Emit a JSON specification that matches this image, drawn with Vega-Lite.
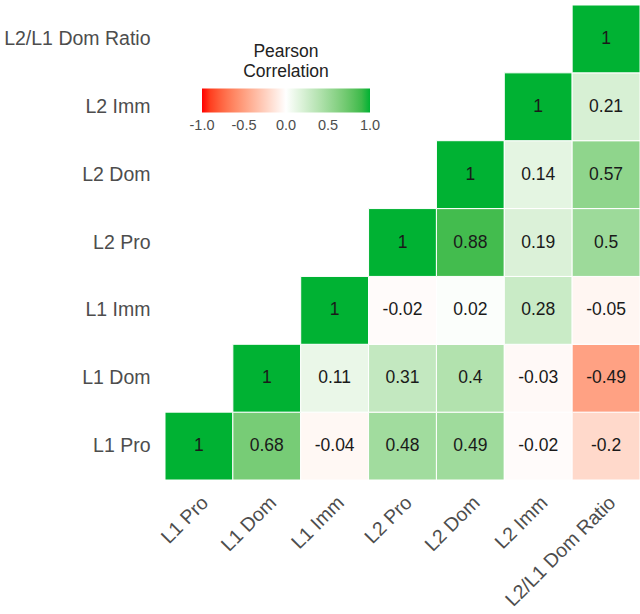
{
  "$schema": "https://vega.github.io/schema/vega-lite/v6.json",
  "width": 475,
  "height": 475,
  "autosize": {"type": "none"},
  "padding": {"left": 165, "top": 5, "right": 0, "bottom": 134},
  "background": "white",
  "config": {"view": {"stroke": null}, "font": "Liberation Sans"},
  "data": {
    "values": [
      {"x": "L1 Pro", "y": "L1 Pro", "r": 1},
      {"x": "L1 Dom", "y": "L1 Pro", "r": 0.68},
      {"x": "L1 Imm", "y": "L1 Pro", "r": -0.04},
      {"x": "L2 Pro", "y": "L1 Pro", "r": 0.48},
      {"x": "L2 Dom", "y": "L1 Pro", "r": 0.49},
      {"x": "L2 Imm", "y": "L1 Pro", "r": -0.02},
      {"x": "L2/L1 Dom Ratio", "y": "L1 Pro", "r": -0.2},
      {"x": "L1 Dom", "y": "L1 Dom", "r": 1},
      {"x": "L1 Imm", "y": "L1 Dom", "r": 0.11},
      {"x": "L2 Pro", "y": "L1 Dom", "r": 0.31},
      {"x": "L2 Dom", "y": "L1 Dom", "r": 0.4},
      {"x": "L2 Imm", "y": "L1 Dom", "r": -0.03},
      {"x": "L2/L1 Dom Ratio", "y": "L1 Dom", "r": -0.49},
      {"x": "L1 Imm", "y": "L1 Imm", "r": 1},
      {"x": "L2 Pro", "y": "L1 Imm", "r": -0.02},
      {"x": "L2 Dom", "y": "L1 Imm", "r": 0.02},
      {"x": "L2 Imm", "y": "L1 Imm", "r": 0.28},
      {"x": "L2/L1 Dom Ratio", "y": "L1 Imm", "r": -0.05},
      {"x": "L2 Pro", "y": "L2 Pro", "r": 1},
      {"x": "L2 Dom", "y": "L2 Pro", "r": 0.88},
      {"x": "L2 Imm", "y": "L2 Pro", "r": 0.19},
      {"x": "L2/L1 Dom Ratio", "y": "L2 Pro", "r": 0.5},
      {"x": "L2 Dom", "y": "L2 Dom", "r": 1},
      {"x": "L2 Imm", "y": "L2 Dom", "r": 0.14},
      {"x": "L2/L1 Dom Ratio", "y": "L2 Dom", "r": 0.57},
      {"x": "L2 Imm", "y": "L2 Imm", "r": 1},
      {"x": "L2/L1 Dom Ratio", "y": "L2 Imm", "r": 0.21},
      {"x": "L2/L1 Dom Ratio", "y": "L2/L1 Dom Ratio", "r": 1}
    ]
  },
  "encoding": {
    "x": {
      "field": "x", "type": "nominal",
      "scale": {"domain": ["L1 Pro", "L1 Dom", "L1 Imm", "L2 Pro", "L2 Dom", "L2 Imm", "L2/L1 Dom Ratio"], "paddingInner": 0, "paddingOuter": 0},
      "axis": {"title": null, "domain": false, "ticks": false, "labelAngle": -45, "labelAlign": "right", "labelBaseline": "top", "labelPadding": 13, "labelFontSize": 19.5, "labelColor": "#4D4D4D", "labelLimit": 300}
    },
    "y": {
      "field": "y", "type": "nominal",
      "scale": {"domain": ["L2/L1 Dom Ratio", "L2 Imm", "L2 Dom", "L2 Pro", "L1 Imm", "L1 Dom", "L1 Pro"], "paddingInner": 0, "paddingOuter": 0},
      "axis": {"title": null, "domain": false, "ticks": false, "labelPadding": 15, "labelFontSize": 19.5, "labelColor": "#4D4D4D", "labelLimit": 300}
    }
  },
  "layer": [
    {
      "mark": {"type": "rect", "stroke": "white", "strokeWidth": 1},
      "encoding": {
        "color": {
          "field": "r", "type": "quantitative",
          "scale": {"domain": [-1, 0, 1], "range": ["#FF0000", "#FFFFFF", "#00B233"], "interpolate": "lab"},
          "legend": {
            "title": ["Pearson", "Correlation"],
            "orient": "none", "legendX": 37, "legendY": 38,
            "direction": "horizontal",
            "gradientLength": 168, "gradientThickness": 24,
            "gradientStrokeWidth": 0,
            "titleFontSize": 17.5, "titleFontWeight": "normal", "titleColor": "#222222",
            "titleAnchor": "middle", "titleAlign": "center", "titlePadding": 8, "titleLineHeight": 20,
            "labelFontSize": 14.5, "labelColor": "#4D4D4D", "labelOffset": 6,
            "values": [-1, -0.5, 0, 0.5, 1],
            "format": ".1f",
            "labelExpr": "replace(datum.label, '\u2212', '-')",
            "labelOverlap": false,
            "encode": {"labels": {"update": {"align": {"value": "center"}}}}
          }
        }
      }
    },
    {
      "mark": {"type": "text", "fontSize": 17.5, "color": "#1A1A1A"},
      "encoding": {"text": {"field": "r", "type": "nominal"}}
    }
  ]
}
